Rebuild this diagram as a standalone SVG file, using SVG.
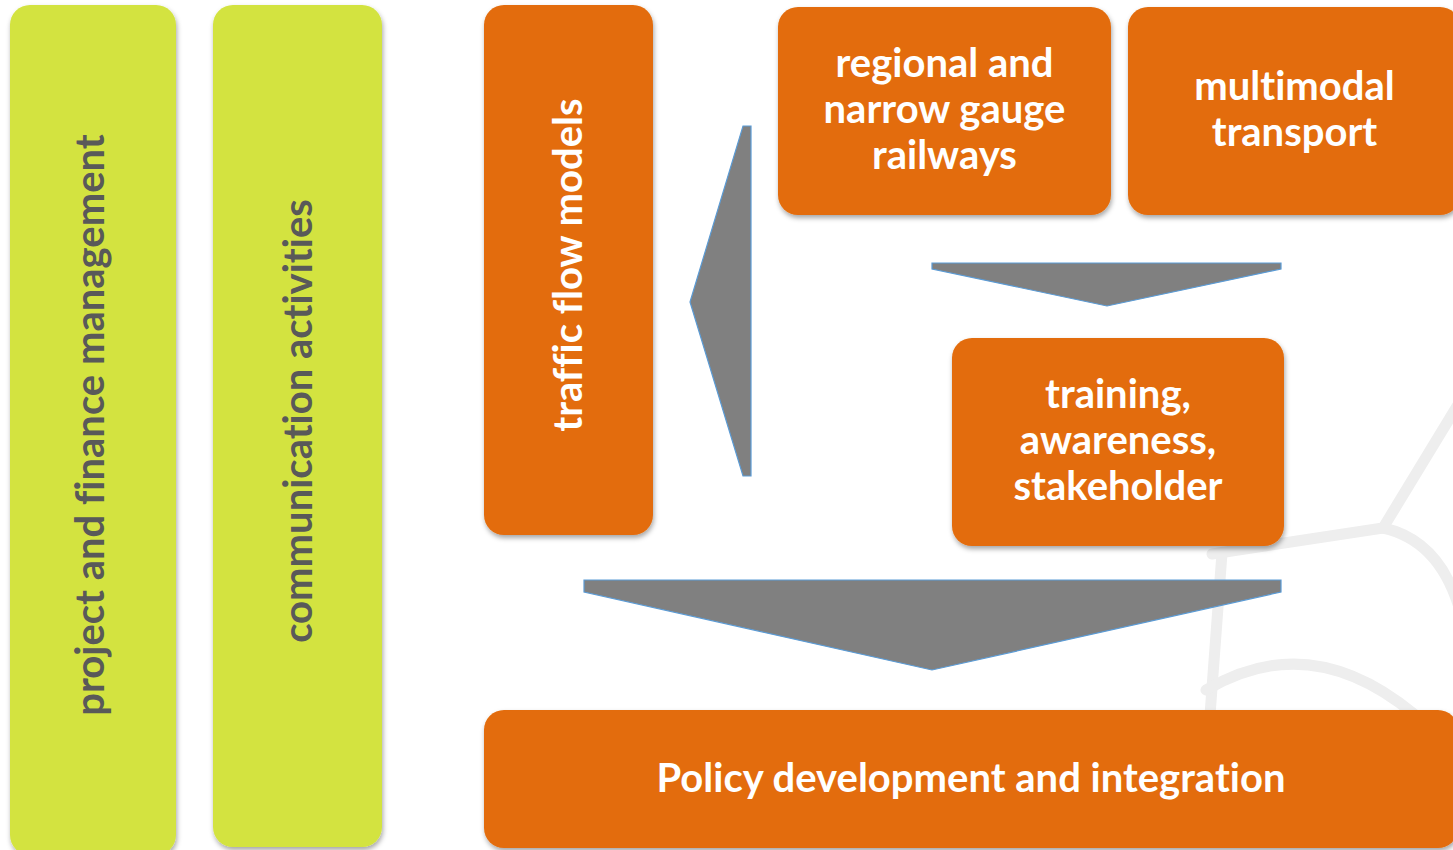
<svg xmlns="http://www.w3.org/2000/svg" width="1453" height="850" viewBox="0 0 1453 850">
<defs>
<filter id="sh" x="-10%" y="-10%" width="120%" height="120%">
<feDropShadow dx="1" dy="3" stdDeviation="2.5" flood-color="#000" flood-opacity="0.35"/>
</filter>
<style>
.green{fill:#d3e33f;filter:url(#sh)}
.orange{fill:#e36c0a;filter:url(#sh)}
.arrow{fill:#808080;stroke:#5b9bd5;stroke-width:1.2}
.wm{fill:none;stroke:#eeeeee;stroke-width:11;stroke-linecap:round}
.tw{font-family:Lato,"Open Sans",sans-serif;font-weight:bold;font-size:40px;fill:#ffffff;text-anchor:middle;font-variant-ligatures:none}
.tg{font-family:Lato,"Open Sans",sans-serif;font-weight:bold;font-size:40px;fill:#595959;text-anchor:middle;font-variant-ligatures:none}
</style>
</defs>
<rect width="1453" height="850" fill="#ffffff"/>
<g id="watermark">
<path class="wm" d="M1462,398 L1383,528"/>
<path class="wm" d="M1212,554 L1383,528"/>
<path class="wm" d="M1383,528 Q1448,542 1465,632"/>
<path class="wm" d="M1222,553 L1210,715"/>
<path class="wm" d="M1206,690 Q1310,628 1414,714"/>
</g>
<g id="n-project">
<rect class="green" x="10" y="5" width="166" height="850" rx="20"/>
<text class="tg" transform="translate(104,425) rotate(-90)">project and finance management</text>
</g>
<g id="n-communication">
<rect class="green" x="213" y="5" width="169" height="842" rx="20"/>
<text class="tg" transform="translate(312,421) rotate(-90)">communication activities</text>
</g>
<g id="n-traffic">
<rect class="orange" x="484" y="5" width="169" height="530" rx="20"/>
<text class="tw" transform="translate(582,265) rotate(-90)">traffic flow models</text>
</g>
<g id="n-regional">
<rect class="orange" x="778" y="7" width="333" height="208" rx="20"/>
<text class="tw" x="944.5" y="77">regional and</text>
<text class="tw" x="944.5" y="123">narrow gauge</text>
<text class="tw" x="944.5" y="169">railways</text>
</g>
<g id="n-multimodal">
<rect class="orange" x="1128" y="7" width="332" height="208" rx="20"/>
<text class="tw" x="1294.5" y="100">multimodal</text>
<text class="tw" x="1294.5" y="146">transport</text>
</g>
<g id="n-training">
<rect class="orange" x="952" y="338" width="332" height="208" rx="20"/>
<text class="tw" x="1118" y="408">training,</text>
<text class="tw" x="1118" y="454">awareness,</text>
<text class="tw" x="1118" y="500">stakeholder</text>
</g>
<g id="n-policy">
<rect class="orange" x="484" y="710" width="974" height="138" rx="20"/>
<text class="tw" x="971" y="792">Policy development and integration</text>
</g>
<g id="connectors">
<polygon class="arrow" points="743,126 751,126 751,476 743,476 690,302"/>
<polygon class="arrow" points="932,263 1281,263 1281,269 1107,306 932,269"/>
<polygon class="arrow" points="584,580 1281,580 1281,592 932,670 584,592"/>
</g>
</svg>
